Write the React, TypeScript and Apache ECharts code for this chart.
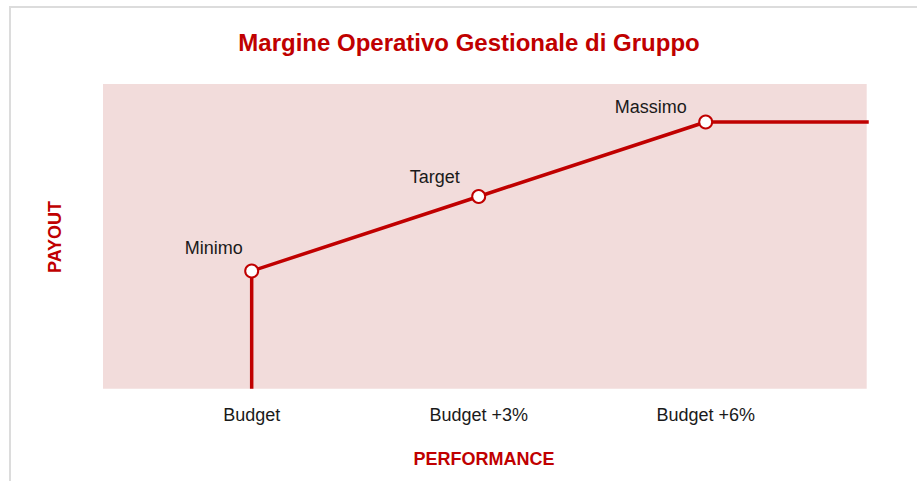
import React, { useEffect, useRef } from "react";
import * as echarts from "echarts";

const titleText = "Margine Operativo Gestionale di Gruppo";
const xAxisName = "PERFORMANCE";
const yAxisName = "PAYOUT";
const tickValues = [0, 3, 6];
const tickLabels = ["Budget", "Budget +3%", "Budget +6%"];
const pointNames = ["", "Minimo", "Target", "Massimo", ""];
const performance = [0, 0, 3, 6, 8.155];
const payout = [-29, 50, 100, 150, 150];
const labelOffsets = [[0, 0], [-38, -1], [-44, 2.5], [-55, 6.5], [0, 0]];

const RED = "#c00000";
const FONT = "'Liberation Sans', Arial, Helvetica, sans-serif";

export default function App() {
  const ref = useRef<HTMLDivElement>(null);
  useEffect(() => {
    if (!ref.current) return;
    const chart = echarts.init(ref.current, null, { renderer: "svg" });
    const data = performance.map((x, i) => {
      const named = pointNames[i] !== "";
      return {
        value: [x, payout[i]],
        name: pointNames[i],
        symbol: named ? "circle" : "none",
        label: named
          ? {
              show: true,
              position: "top",
              offset: labelOffsets[i],
              formatter: pointNames[i],
              fontSize: 18,
              color: "#1a1a1a",
              fontFamily: FONT,
            }
          : { show: false },
      };
    });
    chart.setOption({
      animation: false,
      backgroundColor: "#ffffff",
      grid: {
        left: 103,
        right: 50.3,
        top: 84,
        bottom: 92.3,
        show: true,
        backgroundColor: "#f2dcdb",
        borderWidth: 0,
      },
      xAxis: {
        type: "value",
        min: -1.965,
        max: 8.128,
        axisLine: { show: false },
        axisTick: { show: false },
        splitLine: { show: false },
        axisLabel: {
          customValues: tickValues,
          formatter: (v: number) => {
            const i = tickValues.indexOf(Math.round(v));
            return i >= 0 ? tickLabels[i] : "";
          },
          margin: 17,
          fontSize: 18,
          color: "#1a1a1a",
          fontFamily: FONT,
        },
      },
      yAxis: {
        type: "value",
        min: -29,
        max: 175.5,
        axisLine: { show: false },
        axisTick: { show: false },
        splitLine: { show: false },
        axisLabel: { show: false },
      },
      graphic: [
        {
          type: "rect",
          shape: { x: 10, y: 7, width: 1000, height: 1000 },
          style: { fill: "none", stroke: "#dcdcdc", lineWidth: 2 },
          silent: true,
        },
        {
          type: "text",
          x: 469,
          y: 42,
          style: {
            text: titleText,
            fill: RED,
            font: `bold 24px ${FONT}`,
            textAlign: "center",
            textVerticalAlign: "middle",
          },
        },
        {
          type: "text",
          x: 484,
          y: 459,
          style: {
            text: xAxisName,
            fill: RED,
            font: `bold 18px ${FONT}`,
            textAlign: "center",
            textVerticalAlign: "middle",
          },
        },
        {
          type: "text",
          x: 55,
          y: 237,
          rotation: Math.PI / 2,
          style: {
            text: yAxisName,
            fill: RED,
            font: `bold 18px ${FONT}`,
            textAlign: "center",
            textVerticalAlign: "middle",
          },
        },
      ],
      series: [
        {
          type: "line",
          data,
          clip: false,
          symbolSize: 13,
          showAllSymbol: true,
          lineStyle: { color: RED, width: 3.5 },
          itemStyle: { color: "#ffffff", borderColor: RED, borderWidth: 2 },
          z: 3,
        },
      ],
    });
    return () => chart.dispose();
  }, []);
  return (
    <div
      ref={ref}
      style={{ position: "fixed", left: 0, top: 0, width: 917, height: 481 }}
    />
  );
}
